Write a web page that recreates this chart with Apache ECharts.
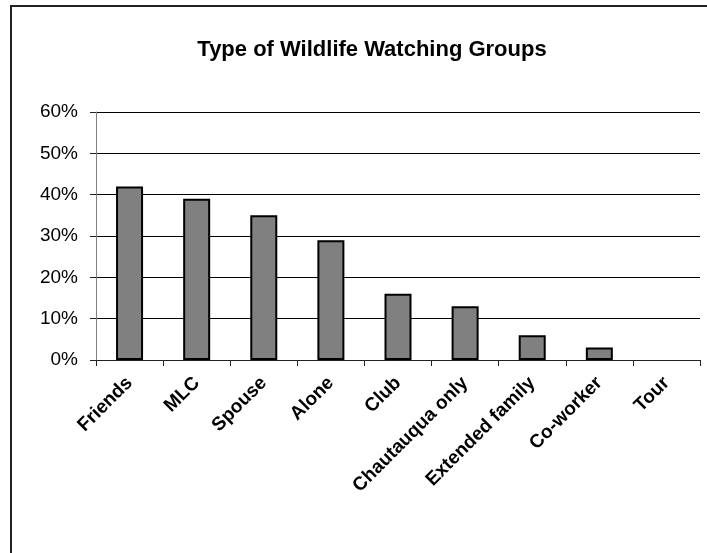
<!DOCTYPE html>
<html>
<head>
<meta charset="utf-8">
<script src="https://cdn.jsdelivr.net/npm/echarts@6/dist/echarts.min.js"></script>
<style>
  html, body { margin: 0; padding: 0; background: #fff; }
  #chart { width: 707px; height: 553px; }
</style>
</head>
<body>
<div id="chart"></div>
<script>
// Type of Wildlife Watching Groups - share of respondents
const categories = ['Friends', 'MLC', 'Spouse', 'Alone', 'Club', 'Chautauqua only', 'Extended family', 'Co-worker', 'Tour'];
const shares = [42, 39, 35, 29, 16, 13, 6, 3, 0];
const yTicks = [0, 10, 20, 30, 40, 50, 60];

const chart = echarts.init(document.getElementById('chart'));

// zero-height bars get no outline (nothing is drawn in the original)
const barData = shares.map(v => v === 0 ? { value: v, itemStyle: { borderWidth: 0 } } : v);

const option = {
    animation: false,
    backgroundColor: '#fff',
    textStyle: { fontFamily: 'Liberation Sans, Arial, sans-serif' },
    title: {
        text: 'Type of Wildlife Watching Groups',
        left: 367,
        top: 34,
        textAlign: 'center',
        textStyle: { fontSize: 22, fontWeight: 'bold', color: '#000', fontFamily: 'Liberation Sans, Arial, sans-serif' }
    },
    graphic: [
        {
            type: 'rect',
            shape: { x: 11, y: 6, width: 800, height: 700 },
            style: { fill: 'none', stroke: '#222', lineWidth: 2 },
            silent: true
        }
    ],
    grid: { left: 96, right: 7, top: 112, bottom: 193 },
    xAxis: {
        type: 'category',
        data: categories,
        axisLine: { lineStyle: { color: '#222', width: 1 } },
        axisTick: { show: true, length: 6, lineStyle: { color: '#222' } },
        axisLabel: {
            rotate: 45,
            interval: 0,
            margin: 20,
            color: '#000',
            fontSize: 19,
            fontWeight: 'bold',
            fontFamily: 'Liberation Sans, Arial, sans-serif'
        }
    },
    yAxis: {
        type: 'value',
        min: yTicks[0],
        max: yTicks[yTicks.length - 1],
        interval: 10,
        axisLine: { show: true, lineStyle: { color: '#808080', width: 1 } },
        axisTick: { show: true, length: 6, lineStyle: { color: '#222' } },
        splitLine: { lineStyle: { color: '#000', width: 1 } },
        axisLabel: {
            formatter: v => v + '%',
            color: '#000',
            fontSize: 19,
            margin: 18,
            fontFamily: 'Liberation Sans, Arial, sans-serif'
        }
    },
    series: [
        {
            type: 'bar',
            data: barData,
            barWidth: 27,
            itemStyle: { color: '#808080', borderColor: '#000', borderWidth: 2 }
        }
    ]
};

chart.setOption(option);
</script>
</body>
</html>
